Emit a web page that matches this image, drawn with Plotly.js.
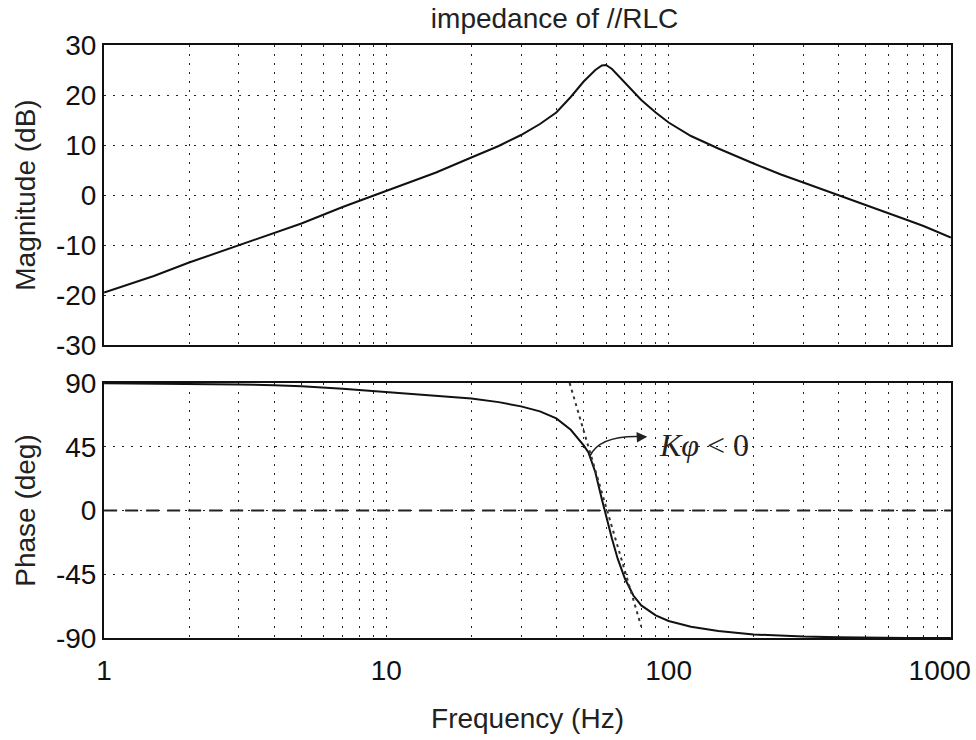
<!DOCTYPE html>
<html>
<head>
<meta charset="utf-8">
<script src="https://cdn.plot.ly/plotly-3.0.1.min.js"></script>
<style>html,body{margin:0;padding:0;background:#fff;}#chart{width:976px;height:740px;}</style>
</head>
<body>
<div id="chart"></div>
<script>
// ---- data ----
const magFreq = [1, 1.5, 2, 3, 4, 5, 7, 10, 15, 20, 25, 30, 35, 40, 45, 50, 55, 58, 60, 63, 66, 70, 75, 80, 90, 100, 120, 150, 200, 250, 300, 400, 500, 600, 700, 800, 1000];
const magDb   = [-19.5, -16.2, -13.5, -10, -7.5, -5.7, -2.4, 0.8, 4.5, 7.5, 9.8, 12.0, 14.2, 16.5, 19.6, 22.7, 25.0, 25.9, 26.0, 25.2, 24.0, 22.5, 20.6, 19.0, 16.5, 14.5, 11.8, 9.3, 6.3, 4.1, 2.5, 0, -2.0, -3.6, -5.0, -6.2, -8.5];

const phaseFreq = [1, 1.5, 2, 3, 4, 5, 7, 10, 15, 20, 25, 30, 35, 40, 45, 50, 52, 55, 58, 60, 63, 66, 70, 75, 80, 90, 100, 120, 150, 200, 300, 400, 500, 700, 1000];
const phaseDeg  = [89.8, 89.6, 89.4, 89, 88.5, 87.8, 86, 83.5, 81, 79, 76.5, 73.5, 70, 65, 57, 46, 41, 27, 8, -4, -20, -34, -48, -60, -67, -74, -78, -82, -85, -87.5, -89, -89.5, -89.8, -90, -90];

// tangent (dotted) line at the steep phase slope
const tangentFreq = [44.6, 80];
const tangentDeg  = [90, -82];

// phase zero reference (dashed)
const zeroFreq = [1, 1000];
const zeroDeg  = [0, 0];

// tick labels
const xTickVals = [1, 10, 100, 1000];
const xTickText = ['1', '10', '100', '1000'];
const xMinorVals = [2,3,4,5,6,7,8,9,20,30,40,50,60,70,80,90,200,300,400,500,600,700,800,900];
const magTickVals = [-30, -20, -10, 0, 10, 20, 30];
const magTickText = ['-30', '-20', '-10', '0', '10', '20', '30'];
const phTickVals = [-90, -45, 0, 45, 90];
const phTickText = ['-90', '-45', '0', '45', '90'];

const FONT = 'Liberation Sans, Arial, sans-serif';
const GRIDDASH = '2px,7px';
const XRANGE = [-0.0005, 3.0005];

const traces = [
  {x: magFreq, y: magDb, xaxis: 'x', yaxis: 'y', mode: 'lines',
   line: {color: '#111', width: 2}, hoverinfo: 'skip'},
  {x: zeroFreq, y: zeroDeg, xaxis: 'x2', yaxis: 'y2', mode: 'lines',
   line: {color: '#222', width: 2, dash: '13px,8px'}, hoverinfo: 'skip'},
  // x3 overlays x2 with the identical range, so this line maps exactly as on x2
  {x: tangentFreq, y: tangentDeg, xaxis: 'x3', yaxis: 'y2', mode: 'lines',
   line: {color: '#333', width: 2, dash: '3px,4px'}, hoverinfo: 'skip'},
  {x: phaseFreq, y: phaseDeg, xaxis: 'x2', yaxis: 'y2', mode: 'lines',
   line: {color: '#111', width: 2}, hoverinfo: 'skip'}
];

function xAxis(anchor, showLabels, vals, text, extra) {
  return Object.assign({
    type: 'log', range: XRANGE, anchor: anchor,
    showline: true, mirror: true, linecolor: '#111', linewidth: 2,
    showgrid: true, gridcolor: '#222', gridwidth: 1, griddash: GRIDDASH,
    zeroline: false, ticks: '',
    tickmode: 'array', tickvals: vals, ticktext: text,
    showticklabels: showLabels, ticklabelstandoff: 6,
    tickfont: {family: FONT, size: 28, color: '#111'},
    minor: {tickmode: 'array', tickvals: xMinorVals, showgrid: true,
            gridcolor: '#222', gridwidth: 1, griddash: GRIDDASH, ticks: ''}
  }, extra || {});
}

function yAxis(domain, anchor, vals, text, range, title) {
  return {
    domain: domain, anchor: anchor, range: range,
    showline: true, mirror: true, linecolor: '#111', linewidth: 2,
    showgrid: true, gridcolor: '#222', gridwidth: 1, griddash: GRIDDASH,
    zeroline: false, ticks: '',
    tickmode: 'array', tickvals: vals, ticktext: text,
    tickfont: {family: FONT, size: 28, color: '#111'},
    title: {text: title, font: {family: FONT, size: 28, color: '#222'}, standoff: 12}
  };
}

const layout = {
  width: 976, height: 740,
  paper_bgcolor: '#fff', plot_bgcolor: '#fff',
  showlegend: false,
  margin: {l: 104, r: 25, t: 45, b: 102},
  title: {text: 'impedance of //RLC', font: {family: FONT, size: 28, color: '#222'},
          x: 0.532, xref: 'paper', xanchor: 'center', y: 0.976, yref: 'container', yanchor: 'middle'},
  xaxis: xAxis('y', false, xTickVals, xTickText),
  xaxis2: xAxis('y2', true, xTickVals.slice(0, 3), xTickText.slice(0, 3),
    {title: {text: 'Frequency (Hz)', font: {family: FONT, size: 28, color: '#222'}, standoff: 24}}),
  // last decade label, right-aligned so it stays inside the figure like the reference
  xaxis3: {type: 'log', range: XRANGE, overlaying: 'x2', anchor: 'y2', side: 'bottom',
    showline: false, showgrid: false, zeroline: false, ticks: '',
    tickmode: 'array', tickvals: xTickVals.slice(3), ticktext: xTickText.slice(3),
    ticklabelposition: 'outside left', ticklabelshift: 20, ticklabelstandoff: 13,
    ticklabeloverflow: 'allow',
    tickfont: {family: FONT, size: 28, color: '#111'}},
  yaxis: yAxis([0.494, 1], 'x', magTickVals, magTickText, [-30, 30], 'Magnitude (dB)'),
  yaxis2: yAxis([0, 0.43], 'x2', phTickVals, phTickText, [-90, 90], 'Phase (deg)'),
  shapes: [
    {type: 'path', xref: 'x2', yref: 'y2', path: 'M 52.5,38 Q 56.9,54 83,52',
     line: {color: '#222', width: 1.5}}
  ],
  annotations: [
    {xref: 'x2', yref: 'y2', x: Math.log10(84), y: 52, ax: -10, ay: 0.5,
     showarrow: true, arrowhead: 2, arrowsize: 1.4, arrowwidth: 1.5, arrowcolor: '#222', text: ''},
    {xref: 'x2', yref: 'y2', x: Math.log10(91), y: 46, xanchor: 'left', yanchor: 'middle',
     showarrow: false, text: '<i>K\u03c6</i>\u00a0&lt;\u00a00',
     font: {family: 'Liberation Serif, Times New Roman, serif', size: 32, color: '#222'}}
  ]
};

Plotly.newPlot('chart', traces, layout, {displayModeBar: false, staticPlot: true});
</script>
</body>
</html>
